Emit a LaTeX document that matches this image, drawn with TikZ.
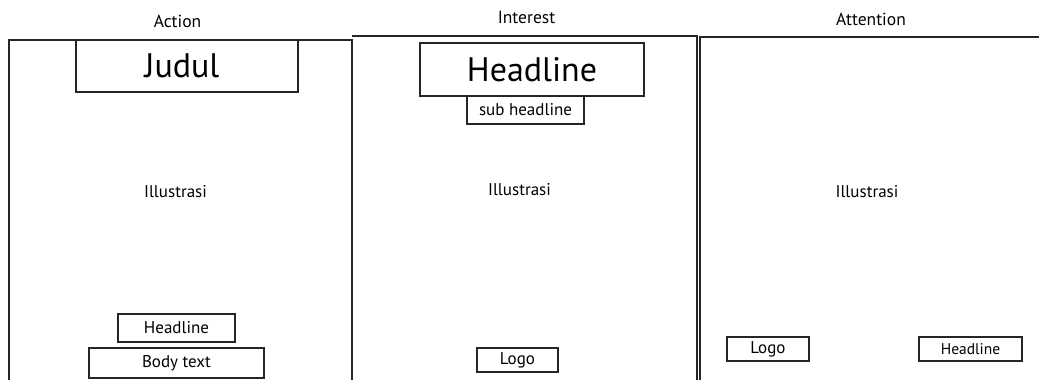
\documentclass[tikz,border=0pt]{standalone}
\usepackage{fontspec}
\setmainfont{PT Sans}
\usepackage{tikz}
\usetikzlibrary{positioning}

\begin{document}
\begin{tikzpicture}[
			x=1pt, y=-1pt,
			frame/.style={line width=1.7pt, black!85},
			box/.style={draw=black!85, line width=1.2pt, inner sep=0pt, font=\fontsize{17}{20}\selectfont},
			title/.style={inner sep=0pt, font=\fontsize{17.5}{20}\selectfont},
			bigbox/.style={box, font=\fontsize{34}{40}\selectfont}
			]

			\useasboundingbox (0,0) rectangle (1039,380);

			% the three frames, open at the bottom
			\draw[frame] (9,380) -- (9,40) -- (352,40) -- (352,380);
			\draw[frame] (352,36) -- (697,36) -- (697,380);
			\draw[frame] (700,380) -- (700,37) -- (1039,37);

			% titles
			\node[title] (action) at (177.5,21) {Action};
			\node[title] (interest) at (526.5,17) {Interest};
			\node[title] (attention) at (871,19) {Attention};

			% Action
			\node[bigbox, minimum width=222, minimum height=52] (judul) at (187,66) {\hspace*{-10pt}Judul};
			\node[title, font=\fontsize{17}{20}\selectfont] (illus1) at (175.5,192) {Illustrasi};
			\node[box, minimum width=117, minimum height=28] (head1) at (176.5,328) {Headline};
			\node[box, minimum width=175, minimum height=30] (body1) at (176.5,363) {Body text};

			% Interest
			\node[bigbox, minimum width=224, minimum height=53] (head2) at (532,69.5) {Headline};
			\node[box, minimum width=117, minimum height=28] (sub2) at (525.5,110) {sub headline};
			\node[title, font=\fontsize{17}{20}\selectfont] (illus2) at (519.5,190) {Illustrasi};
			\node[box, minimum width=81, minimum height=24] (logo2) at (517.5,360) {Logo};

			% Attention
			\node[title, font=\fontsize{17}{20}\selectfont] (illus3) at (867,192) {Illustrasi};
			\node[box, minimum width=82, minimum height=24] (logo3) at (768,349) {Logo};
			\node[box, minimum width=103, minimum height=24, font=\fontsize{15.5}{18}\selectfont] (head3) at (970.5,349) {Headline};

		\end{tikzpicture}
\end{document}
